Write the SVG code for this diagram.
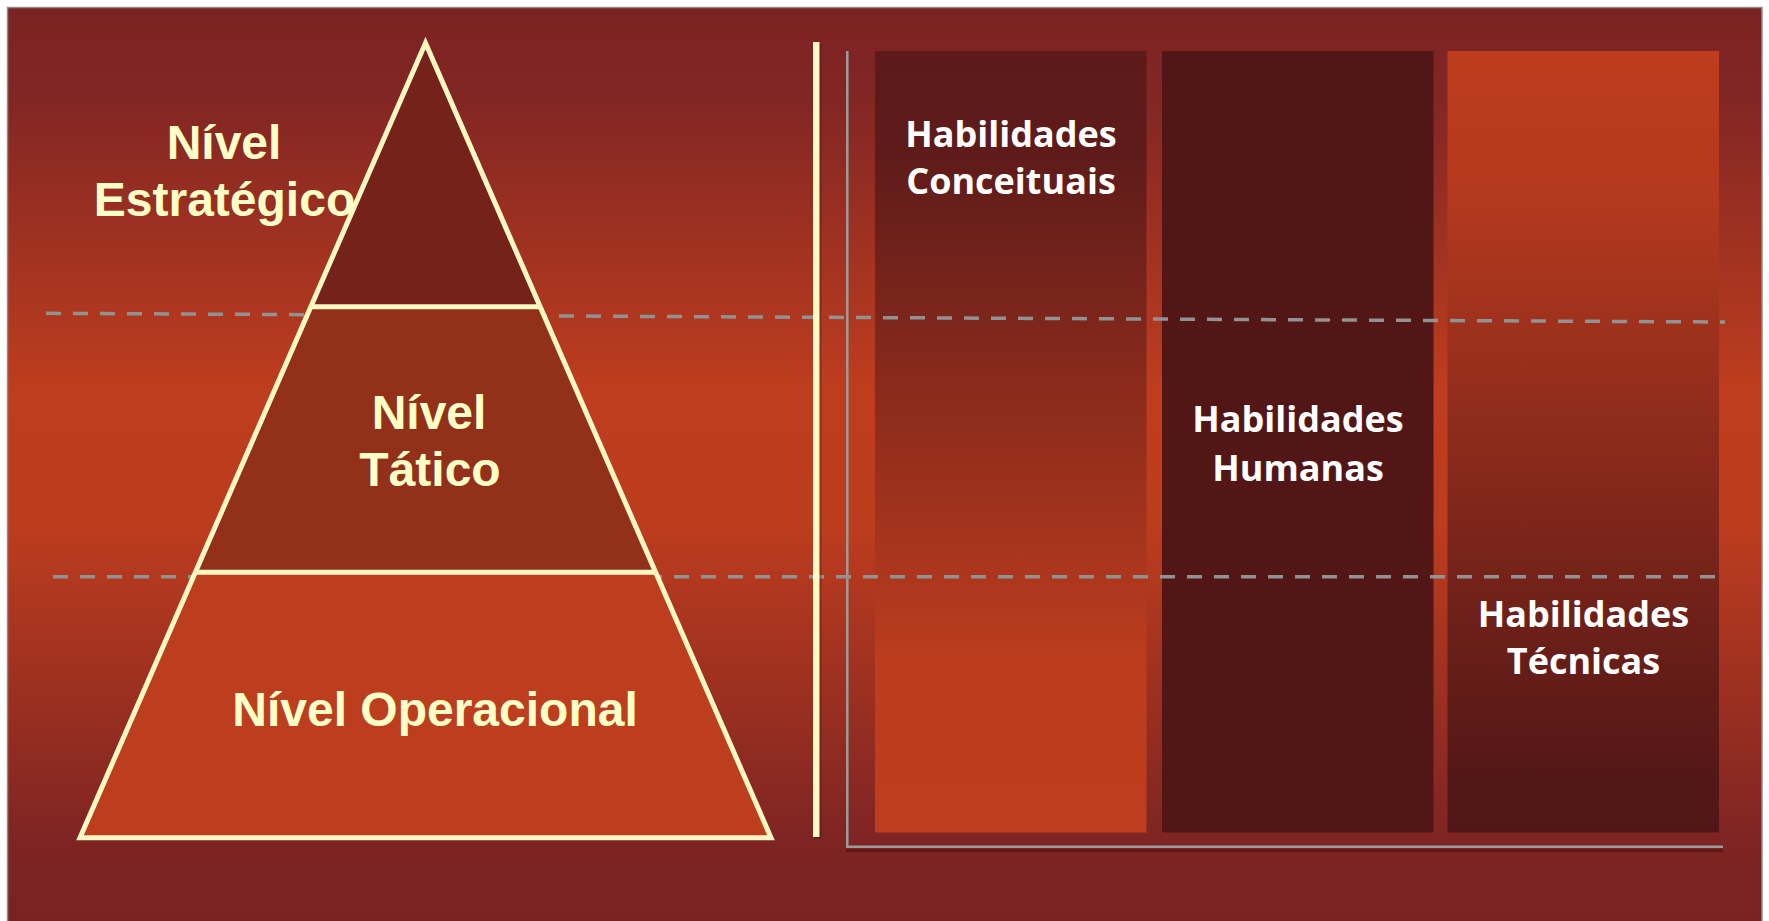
<svg xmlns="http://www.w3.org/2000/svg" width="1769" height="921" viewBox="0 0 1769 921">
<style>
.pt{font-family:"Liberation Sans",Arial,sans-serif;font-weight:bold;font-size:48px;fill:#FFFFC8;text-anchor:middle}
.ht{font-family:"Open Sans","Noto Sans",sans-serif;font-weight:bold;font-size:36px;fill:#FFFFFF;text-anchor:middle}
.edge{stroke:#FFF8C2;stroke-width:5;fill:none;stroke-linejoin:miter}
.guide{stroke:#929292;stroke-width:3.5;stroke-dasharray:15 12;fill:none}
</style>
<defs>
<linearGradient id="bg" gradientUnits="userSpaceOnUse" x1="0" y1="7" x2="0" y2="921">
<stop offset="0" stop-color="#7B2323"/>
<stop offset="0.1" stop-color="#822624"/>
<stop offset="0.42" stop-color="#BE3D1E"/>
<stop offset="0.57" stop-color="#BC3C1E"/>
<stop offset="0.92" stop-color="#7D2423"/>
<stop offset="1" stop-color="#7B2323"/>
</linearGradient>
<linearGradient id="c1" x1="0" y1="0" x2="0" y2="1">
<stop offset="0" stop-color="#5C1A1A"/>
<stop offset="0.13" stop-color="#5E1B1A"/>
<stop offset="0.78" stop-color="#BC3C1E"/>
<stop offset="1" stop-color="#BE3D1E"/>
</linearGradient>
<linearGradient id="c3" x1="0" y1="0" x2="0" y2="1">
<stop offset="0" stop-color="#BD3D1E"/>
<stop offset="0.18" stop-color="#B5391E"/>
<stop offset="0.93" stop-color="#531717"/>
<stop offset="1" stop-color="#521616"/>
</linearGradient>
</defs>
<rect x="0" y="0" width="1769" height="921" fill="#FFFFFF"/>
<rect x="7.5" y="7.5" width="1754.5" height="920" fill="url(#bg)" stroke="#8E8E8E" stroke-width="1.5"/>

<g id="axis">
<line x1="846" y1="850.7" x2="1723" y2="850.7" stroke="#5E1818" stroke-width="3"/>
<line x1="847.3" y1="51" x2="847.3" y2="847.5" stroke="#9C9C9C" stroke-width="2.5"/>
<line x1="846" y1="846.7" x2="1723" y2="846.7" stroke="#9C9C9C" stroke-width="2.5"/>
</g>

<g id="col-conceituais">
<rect x="875" y="51" width="271.5" height="781.5" fill="url(#c1)"/>
</g>
<g id="col-humanas">
<rect x="1162" y="51" width="271.5" height="781.5" fill="#521616"/>
</g>
<g id="col-tecnicas">
<rect x="1447.5" y="51" width="271.5" height="781.5" fill="url(#c3)"/>
</g>

<g id="connectors">
<line class="guide" x1="46" y1="313.3" x2="1725" y2="322"/>
<line class="guide" x1="53" y1="576.7" x2="1725" y2="576.7"/>
</g>

<g id="pyramid">
<g id="nivel-estrategico">
<polygon points="425.5,43 310.8,306.8 540.2,306.8" fill="#74221A"/>
</g>
<g id="nivel-tatico">
<polygon points="310.8,306.8 540.2,306.8 655.6,572.3 195.4,572.3" fill="#93301A"/>
</g>
<g id="nivel-operacional">
<polygon points="195.4,572.3 655.6,572.3 771,837.7 80,837.7" fill="#BC3E1E"/>
</g>
<polygon class="edge" points="425.5,43 771,837.7 80,837.7"/>
<line class="edge" x1="310.8" y1="306.8" x2="540.2" y2="306.8"/>
<line class="edge" x1="195.4" y1="572.3" x2="655.6" y2="572.3"/>
</g>

<g id="divider">
<rect x="815" y="44" width="6.5" height="795" fill="#3E0E0E" opacity="0.35"/>
<rect x="813" y="42" width="6.5" height="795" fill="#FFF9C4"/>
</g>

<g id="labels-pyramid">
<text class="pt" x="224" y="158.5">Nível</text>
<text class="pt" x="224.5" y="216">Estratégico</text>
<text class="pt" x="429" y="429">Nível</text>
<text class="pt" x="430" y="486">Tático</text>
<text class="pt" x="435" y="726">Nível Operacional</text>
</g>

<g id="labels-habilidades">
<text class="ht" x="1011" y="147">Habilidades</text>
<text class="ht" x="1011" y="193.5">Conceituais</text>
<text class="ht" x="1298" y="432">Habilidades</text>
<text class="ht" x="1298" y="481">Humanas</text>
<text class="ht" x="1583.5" y="627">Habilidades</text>
<text class="ht" x="1583.5" y="674">Técnicas</text>
</g>
</svg>
